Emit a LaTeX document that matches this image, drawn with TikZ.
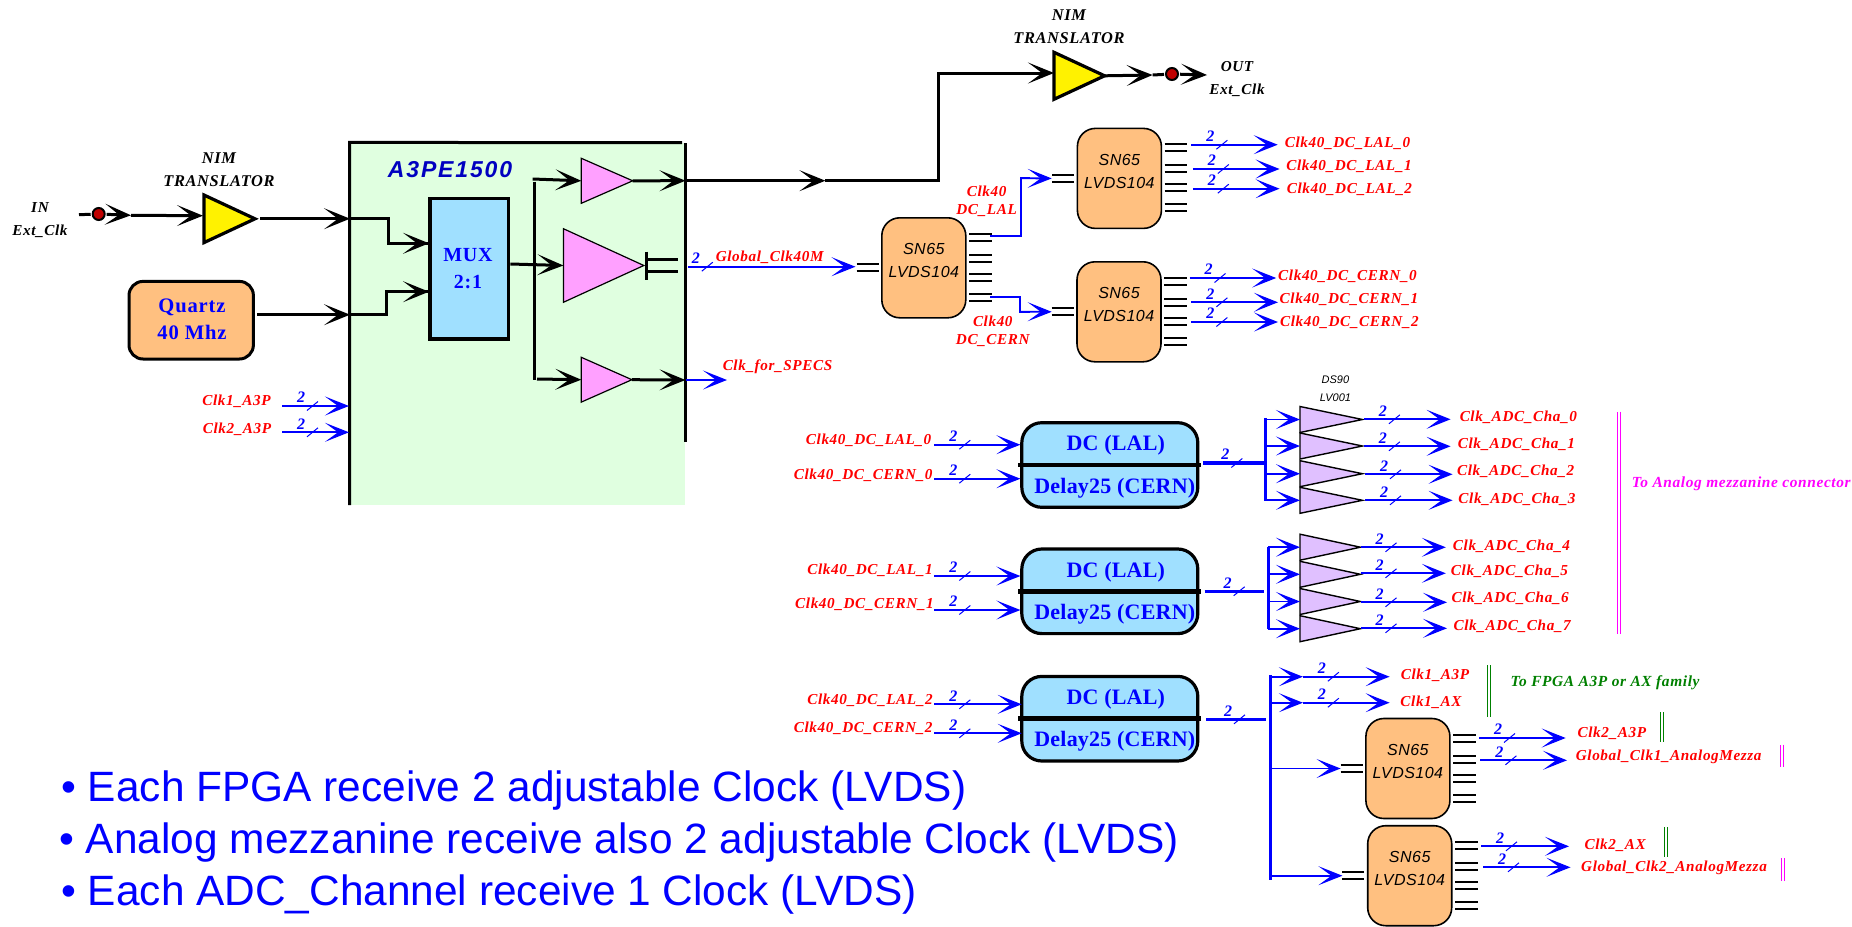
\documentclass[tikz,border=0pt]{standalone}
\usepackage{fontspec}
\setmainfont{Liberation Serif}
\setsansfont{Liberation Sans}
\newfontfamily\labelfont[LetterSpace=4]{Liberation Serif}
\newfontfamily\blockfont[LetterSpace=1]{Liberation Serif}
\newfontfamily\chipfont[LetterSpace=3]{Liberation Sans}
\newfontfamily\fpgafont[LetterSpace=8]{Liberation Sans}
\usetikzlibrary{arrows.meta, calc, shapes.geometric}
\definecolor{fpgagreen}{RGB}{224,255,224}
\definecolor{muxblue}{RGB}{160,224,255}
\definecolor{chiporange}{RGB}{255,192,128}
\definecolor{bufpink}{RGB}{255,160,255}
\definecolor{buflilac}{RGB}{224,192,255}
\definecolor{dotred}{RGB}{192,0,0}
\definecolor{fpgablue}{RGB}{0,0,192}
\definecolor{tagmagenta}{RGB}{255,0,255}
\definecolor{taggreen}{RGB}{0,128,0}
\tikzset{
	wire/.style={line width=1.5pt},
	wirea/.style={wire, -{Stealth[length=13pt,width=10.5pt,inset=7pt,line width=.8pt]}},
	clk/.style={color=blue, line width=.9pt, -{Stealth[length=12pt,width=9.5pt,inset=6.5pt,line width=.7pt]}},
	clkline/.style={color=blue, line width=.9pt},
	clkthick/.style={color=blue, line width=1.8pt},
	sig/.style={text=red, inner sep=0, font=\labelfont\bfseries\itshape\fontsize{7.6}{8}\selectfont},
	black sig/.style={sig, text=black, align=center, font=\labelfont\bfseries\itshape\fontsize{7.6}{11.5}\selectfont},
	count/.style={text=blue, inner sep=0, font=\bfseries\itshape\fontsize{8}{8}\selectfont},
	stub/.style={line width=1pt},
	tri/.style 2 args={isosceles triangle, isosceles triangle stretches, anchor=lower side, draw, inner sep=0, outer sep=0,
		minimum height=#1, minimum width=#2},
	snbody/.style={draw, line width=.8pt, fill=chiporange, rounded corners=9pt, minimum width=42pt, minimum height=50pt, inner sep=0},
	sntext/.style={inner sep=0, align=center, font=\chipfont\itshape\fontsize{8}{11.5}\selectfont},
	dcbody/.style={draw, line width=1.6pt, fill=muxblue, rounded corners=10pt, minimum width=88pt, minimum height=42.3pt, inner sep=0},
	dctext/.style={text=blue, inner sep=0, font=\blockfont\bfseries\fontsize{11}{12}\selectfont},
	blocktext/.style={text=blue, inner sep=0, align=center, font=\labelfont\bfseries\fontsize{10.3}{13.7}\selectfont},
	pin/.style={circle, draw, line width=1pt, fill=dotred, minimum size=6pt, inner sep=0, outer sep=1pt},
	tag/.style={sig, font=\labelfont\bfseries\itshape\fontsize{7.7}{8}\selectfont},
	point/.style={text=blue, anchor=base west, inner sep=0, font=\sffamily\fontsize{21.2}{24}\selectfont}
}
% bus with its count and slash
\newcommand{\buscount}[2]{
	\node[count] (#1n) at ($(#1)+(#2,-8.5)$) {2};
	\draw[color=blue, line width=.5pt] ($(#1)+(#2+6,4.5)$) -- ($(#1)+(#2+17,-4.5)$);
}
\newcommand{\clkout}[7][19]{
	\coordinate (#2s) at (#3,#5);
	\coordinate (#2e) at (#4,#5);
	\draw[clk] (#2s) -- (#2e);
	\buscount{#2s}{#1}
	\node[sig] (#2l) at (#6) {#7};
}
% chip with its pins
\newcommand{\snchip}[3]{
	\node[snbody] (#1) at (#2,#3) {};
	\node[sntext] (#1t) at ($(#1)+(0,-7)$) {SN65\\LVDS104};
	\coordinate (#1in) at ($(#1.west)+(-24.5,0)$);
	\foreach \dy in {-3.5,3.5}
		\draw[stub] ($(#1.west)+(-24.5,\dy)$) -- ($(#1.west)+(-2.5,\dy)$);
	\foreach \dy in {-34,-27,-13,-6,6,13,26,33}
		\draw[stub] ($(#1.east)+(2.5,\dy)$) -- ($(#1.east)+(25,\dy)$);
}
\newcommand{\dcblock}[2]{
	\node[dcbody] (#1) at (1109.8,#2) {};
	\draw[line width=2.4pt] ($(#1.west)+(-2,0)$) -- ($(#1.east)+(2,0)$);
	\node[dctext] (#1a) at ($(#1)+(6,-19.5)$) {DC (LAL)};
	\node[dctext] (#1b) at ($(#1)+(5,23)$) {Delay25 (CERN)};
}

\begin{document}
\begin{tikzpicture}[x=.5pt, y=-.5pt]
	\useasboundingbox (0,0) rectangle (1852,926);
	% FPGA
	\node[fill=fpgagreen, minimum width=167.5pt, minimum height=181pt, inner sep=0] (fpga) at (517.5,323.8) {};
	\draw[wire] (fpga.south west) -- (fpga.north west) -- (682,142.7);
	\draw[wire] (685.5,143) -- (685.5,442);
	\node[text=fpgablue, inner sep=0, font=\fpgafont\bfseries\itshape\fontsize{11.5}{13}\selectfont] (fpgat) at (450,169.3) {A3PE1500};
	\coordinate (fpgaa) at (350,218.7);
	\coordinate (fpgab) at (350,314.7);
	% left inputs
	\node[black sig] (int) at (40,219.8) {IN\\Ext\_Clk};
	\coordinate (ina) at (79,214.7);
	\node[pin] (pina) at (98.7,214) {};
	\coordinate (inb) at (131,215.3);
	\coordinate (inc) at (203,215.7);
	\draw[wire] (ina) -- (pina);
	\draw[wirea] (pina) -- (inb);
	\draw[wirea] (inb) -- (inc);
	\node[black sig, font=\labelfont\bfseries\itshape\fontsize{8.2}{11.5}\selectfont] (nimat) at (219,169.6) {NIM\\TRANSLATOR};
	\node[tri={25.5pt}{23.8pt}, line width=1.6pt, fill=yellow] (nima) at (204,218.8) {};
	\coordinate (nimao) at (260,218.7);
	\draw[wirea] (nimao) -- (fpgaa);
	\node[draw, line width=1.5pt, fill=chiporange, rounded corners=7pt, minimum width=62.2pt, minimum height=38.8pt, inner sep=0] (quartz) at (191.2,320.2) {};
	\node[blocktext] (quartzt) at (192,319) {Quartz\\40 Mhz};
	\coordinate (quartzo) at (257,314.7);
	\draw[wirea] (quartzo) -- (fpgab);
	% mux and buffers
	\node[draw, line width=1.8pt, fill=muxblue, minimum width=39.3pt, minimum height=70.2pt, inner sep=0] (mux) at (469.3,268.5) {};
	\node[blocktext, font=\labelfont\bfseries\fontsize{10}{13.7}\selectfont] (muxt) at (468,268.3) {MUX\\2:1};
	\coordinate (muxa) at (429,243.3);
	\coordinate (muxb) at (429,291.7);
	\draw[wire] (fpgaa) -- ++(38.4,0) |- (muxa);
	\draw[wirea] (muxa -| 388.4,0) -- (muxa);
	\draw[wire] (fpgab) -- ++(36.6,0) |- (muxb);
	\draw[wirea] (muxb -| 386.6,0) -- (muxb);
	\node[tri={25.7pt}{22.5pt}, fill=bufpink, line width=.6pt] (bufa) at (581.3,180.8) {};
	\node[tri={40.2pt}{36.8pt}, fill=bufpink, line width=.6pt] (bufb) at (563.4,265.5) {};
	\node[tri={25.3pt}{22.4pt}, fill=bufpink, line width=.6pt] (bufc) at (581.3,379.7) {};
	\draw[wirea] (mux.east |- 0,264) -- (bufb.lower side);
	\coordinate (forka) at (534.4,181.7);
	\coordinate (forkb) at (534.4,380);
	\draw[wire] (forka) -- (forkb);
	\draw[wirea] (532.6,179) -- (bufa.lower side);
	\draw[wirea] (537,379) -- (bufc.lower side);
	\coordinate (fpgao) at (685.5,180.7);
	\coordinate (fpgac) at (685.5,380);
	\draw[wirea] (bufa.apex) -- (fpgao);
	\draw[wirea] (bufc.apex) -- (fpgac);
	\draw[wire] ($(bufb.apex)+(3,-14)$) -- ($(bufb.apex)+(3,14)$);
	\foreach \dy in {-6,6}
		\draw[wire] ($(bufb.apex)+(3,\dy)$) -- ($(bufb.apex)+(34,\dy)$);
	\coordinate (specs) at (727,380);
	\draw[clk] (fpgac) -- (specs);
	\node[sig] (specst) at (777.5,367) {Clk\_for\_SPECS};
	% output to NIM
	\node[black sig, font=\labelfont\bfseries\itshape\fontsize{8.2}{11.5}\selectfont] (nimbt) at (1069,27.2) {NIM\\TRANSLATOR};
	\node[tri={25.3pt}{23.5pt}, line width=1.6pt, fill=yellow] (nimb) at (1054,75.8) {};
	\coordinate (bend) at (825.4,180.7);
	\draw[wirea] (fpgao) -- (bend);
	\draw[wire] (bend) -- ++(112.6,0) |- (1045,73);
	\draw[wirea] (1000,73) -- (nimb.lower side |- 0,73);
	\coordinate (outa) at (1152.6,75);
	\node[pin] (pinb) at (1172,74) {};
	\coordinate (outb) at (1207,75);
	\draw[wirea] (nimb.apex) -- (outa);
	\draw[wire] (outa) -- (pinb);
	\draw[wirea] (pinb) -- (outb);
	\node[black sig] (outt) at (1237,79) {OUT\\Ext\_Clk};
	% clock tree
	\clkout{aa}{282}{349}{406}{236.5,401.7}{Clk1\_A3P}
	\clkout{ab}{282}{349}{432.3}{237,429}{Clk2\_A3P}
	\clkout[8]{gl}{687.8}{855.5}{266.7}{769.7,257}{Global\_Clk40M}
	\snchip{snm}{923.8}{267.8}
	\snchip{snt}{1119.4}{178.4}
	\snchip{snb}{1119}{311.8}
	\coordinate (snmo) at (990,236.3);
	\coordinate (snmp) at (990,297);
	\draw[clkline] (snmo) -- ++(31,0) |- (1030,178.3);
	\draw[clk] (1021,178.3) -- (snt.west -| snbin);
	\draw[clkline] (snmp) -- ++(30.3,0) |- (1030,311.7);
	\draw[clk] (1020.3,311.7) -- (snbin);
	\node[sig, align=center, font=\labelfont\bfseries\itshape\fontsize{7.6}{9}\selectfont] (ta) at (986.6,200.8) {Clk40\\DC\_LAL};
	\node[sig, align=center, font=\labelfont\bfseries\itshape\fontsize{7.6}{9}\selectfont] (tb) at (992.8,330.8) {Clk40\\DC\_CERN};
	\clkout{la}{1191.4}{1277.7}{144.7}{1347.5,143.7}{Clk40\_DC\_LAL\_0}
	\clkout{lb}{1192.8}{1279.6}{169}{1349,166.7}{Clk40\_DC\_LAL\_1}
	\clkout{lc}{1192.8}{1279.6}{188.7}{1349.4,189.7}{Clk40\_DC\_LAL\_2}
	\clkout{ca}{1189.5}{1276.2}{278}{1347.5,276.7}{Clk40\_DC\_CERN\_0}
	\clkout{cb}{1191.4}{1278}{302.3}{1349,299.7}{Clk40\_DC\_CERN\_1}
	\clkout{cc}{1191.4}{1278}{322}{1349.4,322.7}{Clk40\_DC\_CERN\_2}
	% delay blocks
	\dcblock{dca}{465}
	\dcblock{dcb}{591.3}
	\dcblock{dcc}{718.7}
	\clkout{da}{934.3}{1020.4}{444.7}{868.6,440.7}{Clk40\_DC\_LAL\_0}
	\clkout{db}{934.3}{1020.4}{478.7}{863.2,475}{Clk40\_DC\_CERN\_0}
	\clkout{dc}{934.3}{1020.4}{576}{870,570}{Clk40\_DC\_LAL\_1}
	\clkout{dd}{934.3}{1020.4}{610}{864.5,604}{Clk40\_DC\_CERN\_1}
	\clkout{de}{934.3}{1021.7}{704.3}{870,700}{Clk40\_DC\_LAL\_2}
	\clkout{df}{934.3}{1021.7}{733.3}{863.2,728}{Clk40\_DC\_CERN\_2}
	% DS90 fan out
	\coordinate (faa) at (1265.6,418);
	\coordinate (fab) at (1265.6,500.5);
	\coordinate (fba) at (1268.3,547);
	\coordinate (fbb) at (1268.3,628.5);
	\coordinate (fca) at (1270.4,675);
	\coordinate (fcb) at (1270.4,880);
	\draw[clkline, line width=1.2pt] (faa) -- (fab);
	\draw[clkline, line width=1.2pt] (fba) -- (fbb);
	\draw[clkline, line width=1.2pt] (fca) -- (fcb);
	\coordinate (oa) at (1203.3,463);
	\coordinate (ob) at (1204.6,591.3);
	\coordinate (oc) at (1206,719.3);
	\draw[clkthick] (oa) -- (oa -| faa);
	\draw[clkthick] (ob) -- (1264.3,591.3);
	\draw[clkthick] (oc) -- (1266.3,719.3);
	\buscount{oa}{22}
	\buscount{ob}{23}
	\buscount{oc}{22}
	\foreach \nm/\yy in {ua/419.5,ub/446,uc/473.7,ud/500.3} {
		\node[tri={31.2pt}{13pt}, fill=buflilac, line width=.7pt] (\nm) at (1300,\yy) {};
		\draw[clk] (faa |- \nm.lower side) -- (\nm.lower side);
	}
	\foreach \nm/\yy in {ue/547.2,uf/574.3,ug/601.5,uh/628.7} {
		\node[tri={30.2pt}{13pt}, fill=buflilac, line width=.7pt] (\nm) at (1300,\yy) {};
		\draw[clk] (fba |- \nm.lower side) -- (\nm.lower side);
	}
	\node[inner sep=0, align=center, font=\sffamily\itshape\fontsize{5.5}{9}\selectfont] (dst) at (1335.4,388.3) {DS90\\LV001};
	\clkout{ha}{1363.9}{1450.6}{419.3}{1518.3,417}{Clk\_ADC\_Cha\_0}
	\clkout{hb}{1363.9}{1450.6}{446.3}{1516.3,444}{Clk\_ADC\_Cha\_1}
	\clkout{hc}{1365}{1452.6}{474.3}{1515.6,471}{Clk\_ADC\_Cha\_2}
	\clkout{hd}{1365}{1452.6}{500.3}{1517,499}{Clk\_ADC\_Cha\_3}
	\clkout{he}{1360.5}{1445.8}{547.3}{1511.5,546}{Clk\_ADC\_Cha\_4}
	\clkout{hf}{1360.5}{1445.8}{573.3}{1509.5,571}{Clk\_ADC\_Cha\_5}
	\clkout{hg}{1360.5}{1447}{602.3}{1510.2,598}{Clk\_ADC\_Cha\_6}
	\clkout{hh}{1360.5}{1447}{628.3}{1512.2,626}{Clk\_ADC\_Cha\_7}
	\node[tag, text=tagmagenta] (tagana) at (1741.2,483.3) {To Analog mezzanine connector};
	% last block
	\clkout{ka}{1302.9}{1389.6}{676.7}{1435,675.7}{Clk1\_A3P}
	\clkout{kb}{1302.9}{1389.6}{702.7}{1431,702}{Clk1\_AX}
	\snchip{sna}{1407.9}{768.5}
	\snchip{snc}{1409.7}{875.7}
	\draw[clk] (fca |- kas) -- (kas);
	\draw[clk] (fca |- kbs) -- (kbs);
	\draw[clk] (fca |- snain) -- (snain);
	\draw[clk] (fca |- sncin) -- (sncin);
	\clkout{ma}{1479}{1565.7}{738}{1611.8,733.7}{Clk2\_A3P}
	\clkout{mb}{1480.4}{1567}{760.3}{1668.7,757}{Global\_Clk1\_AnalogMezza}
	\clkout{na}{1481}{1569}{846.3}{1615.2,845}{Clk2\_AX}
	\clkout{nb}{1483}{1570.5}{867.3}{1674,868.3}{Global\_Clk2\_AnalogMezza}
	\node[tag, text=taggreen] (tagfpga) at (1605,682.3) {To FPGA A3P or AX family};
	% end marks
	\foreach \xx/\ya/\yb in {1619.3/411.7/634.3,1781.9/744.7/767.3,1783.2/858.3/880.7}
		\draw[color=tagmagenta, line width=.5pt, double=white, double distance=1pt] (\xx,\ya) -- (\xx,\yb);
	\foreach \xx/\ya/\yb in {1489.2/665.3/716.7,1662/712.3/741.7,1666/827.3/856.7}
		\draw[color=taggreen, line width=.5pt, double=white, double distance=1pt] (\xx,\ya) -- (\xx,\yb);
	% notes
	\node[point] (pa) at (61,801.7) {• Each FPGA receive 2 adjustable Clock (LVDS)};
	\node[point] (pb) at (59,853.3) {• Analog mezzanine receive also 2 adjustable Clock (LVDS)};
	\node[point] (pc) at (61,905) {• Each ADC\_Channel receive 1 Clock (LVDS)};
\end{tikzpicture}
\end{document}
